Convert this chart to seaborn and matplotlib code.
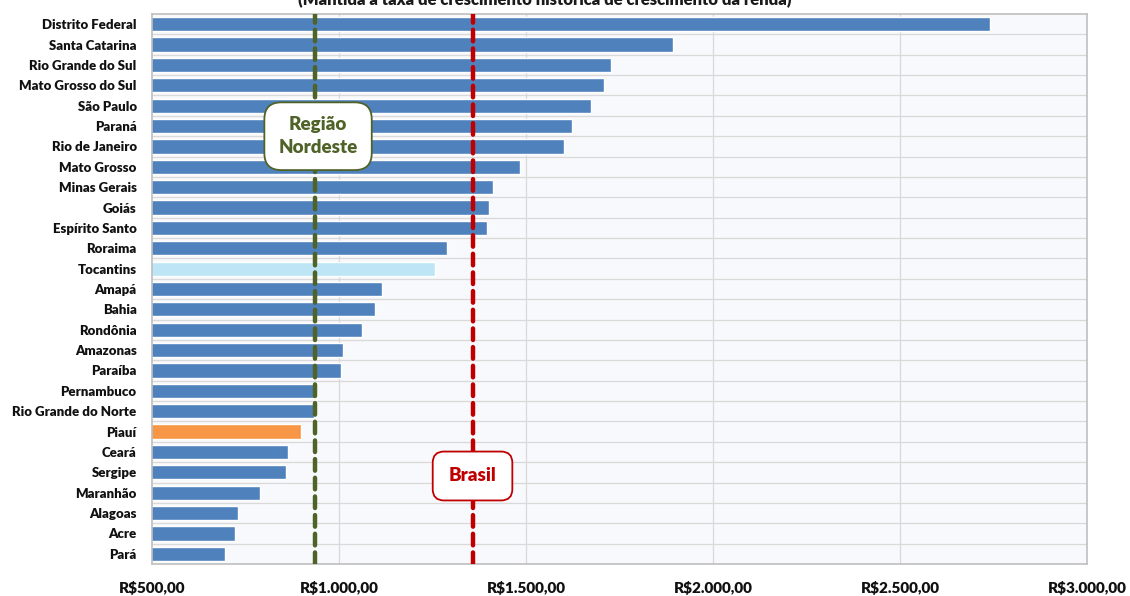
import matplotlib
matplotlib.use("Agg")
import matplotlib.pyplot as plt
import pandas as pd
import seaborn as sns
from matplotlib.ticker import FuncFormatter

estados = [
    "Distrito Federal", "Santa Catarina", "Rio Grande do Sul", "Mato Grosso do Sul",
    "São Paulo", "Paraná", "Rio de Janeiro", "Mato Grosso", "Minas Gerais", "Goiás",
    "Espírito Santo", "Roraima", "Tocantins", "Amapá", "Bahia", "Rondônia", "Amazonas",
    "Paraíba", "Pernambuco", "Rio Grande do Norte", "Piauí", "Ceará", "Sergipe",
    "Maranhão", "Alagoas", "Acre", "Pará",
]
renda = [
    2741, 1893, 1727, 1708, 1673, 1622, 1601, 1483, 1413, 1402,
    1397, 1290, 1258, 1116, 1095, 1062, 1011, 1006, 937, 934,
    899, 864, 859, 789, 730, 722, 695,
]
media_nordeste = 937
media_brasil = 1357
destaques = {"Tocantins": "#bde5f6", "Piauí": "#f79646"}
cor_padrao = "#4f81bd"
xticks = [500, 1000, 1500, 2000, 2500, 3000]

titulo = "(Mantida a taxa de crescimento histórica de crescimento da renda)"

df = pd.DataFrame({"estado": estados, "renda": renda})
paleta = {e: destaques.get(e, cor_padrao) for e in estados}

sns.set_theme(style="white", rc={"axes.facecolor": "#f8f9fc"})
plt.rcParams["font.family"] = ["Lato", "DejaVu Sans"]

fig, ax = plt.subplots(figsize=(11.3, 5.96), dpi=100)
fig.subplots_adjust(left=0.1345, right=0.962, top=0.9765, bottom=0.0537)

sns.barplot(
    data=df, x="renda", y="estado", hue="estado", palette=paleta,
    orient="h", width=0.7, legend=False, ax=ax, saturation=1,
)

ax.set_xlim(500, 3000)
ax.set_ylim(len(estados) - 0.5, -0.5)
ax.set_xticks(xticks)
ax.xaxis.set_major_formatter(FuncFormatter(
    lambda v, _: "R$" + f"{v:,.2f}".replace(",", "X").replace(".", ",").replace("X", ".")))
ax.tick_params(axis="x", length=0, pad=12, labelsize=11)
ax.tick_params(axis="y", length=0, pad=11, labelsize=9.5)
for lbl in ax.get_xticklabels() + ax.get_yticklabels():
    lbl.set_fontweight("heavy")
    lbl.set_color("#111111")
ax.set_xlabel("")
ax.set_ylabel("")

# grid: vertical at ticks, horizontal between categories
for v in xticks[1:-1]:
    ax.axvline(v, color="#d9d9d9", lw=0.9, zorder=0)
for i in range(len(estados) - 1):
    ax.axhline(i + 0.5, color="#d9d9d9", lw=0.9, zorder=0)
ax.set_axisbelow(True)
for s in ax.spines.values():
    s.set_color("#bfbfbf")
    s.set_linewidth(1.2)

ax.axvline(media_nordeste, color="#4f6228", lw=3.2, ls=(0, (2.6, 1.6)),
           dash_capstyle="round", zorder=3)
ax.axvline(media_brasil, color="#c00000", lw=3.2, ls=(0, (2.6, 1.6)),
           dash_capstyle="round", zorder=3)

ax.text(944, 5.5, "Região\nNordeste", ha="center", va="center", fontsize=13.5,
        fontweight="heavy", color="#4f6228", linespacing=1.4, zorder=5,
        bbox=dict(boxstyle="round,pad=0.75,rounding_size=0.9", fc="white",
                  ec="#4f6228", lw=1.3))
ax.text(media_brasil, 22.18, "Brasil", ha="center", va="center", fontsize=13.5,
        fontweight="heavy", color="#c00000", zorder=5,
        bbox=dict(boxstyle="round,pad=0.85,rounding_size=0.6", fc="white",
                  ec="#c00000", lw=1.3))

fig.text(0.482, 1.0, titulo, ha="center", va="center", fontsize=12,
         fontweight="heavy", color="#1a1a1a")

fig.savefig("out.png", dpi=100)
